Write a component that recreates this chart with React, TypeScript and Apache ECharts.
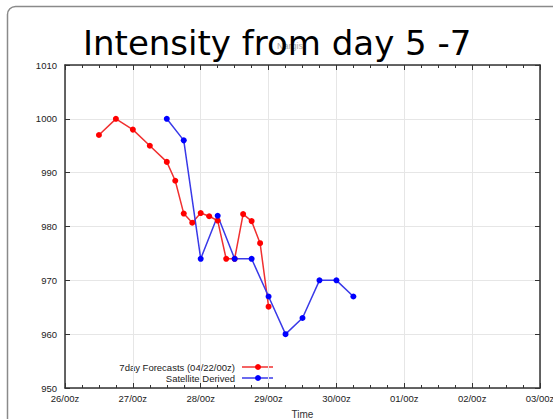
import React, { useEffect, useRef } from "react";
import * as echarts from "echarts";

// Time axis: hours after 26/00z
const dayLabels = ["26/00z", "27/00z", "28/00z", "29/00z", "30/00z", "01/00z", "02/00z", "03/00z"];
const yTicks = [950, 960, 970, 980, 990, 1000, 1010];

const forecastName = "7day Forecasts (04/22/00z)";
const forecastHours = [12, 18, 24, 30, 36, 39, 42, 45, 48, 51, 54, 57, 60, 63, 66, 69, 72];
const forecastValues = [997, 1000, 998, 995, 992, 988.5, 982.4, 980.7, 982.5, 981.9, 981.1, 974, 974, 982.3, 981, 976.9, 965.1];

const satelliteName = "Satellite Derived";
const satelliteHours = [36, 42, 48, 54, 60, 66, 72, 78, 84, 90, 96, 102];
const satelliteValues = [1000, 996, 974, 982, 974, 974, 967, 960, 963, 970, 970, 967];

const titleText = "Intensity from day 5 -7";
const plotTitle = "Nargis";

const legendEntry = (name: string, y: number, dot: string, line: string) => ({
  type: "group",
  x: 0,
  y,
  children: [
    {
      type: "text",
      x: 235,
      y: 0,
      style: { text: name, fill: "#222", fontSize: 9.5, fontFamily: "Liberation Sans", align: "right", verticalAlign: "middle" },
    },
    { type: "line", shape: { x1: 242, y1: 0, x2: 273, y2: 0 }, style: { stroke: line, lineWidth: 1.5 } },
    { type: "circle", shape: { cx: 258, cy: 0, r: 3 }, style: { fill: dot } },
  ],
});

export default function App() {
  const ref = useRef<HTMLDivElement>(null);
  useEffect(() => {
    if (!ref.current) return;
    const chart = echarts.init(ref.current, null, { renderer: "svg" });
    const axisFont = { fontFamily: "Liberation Sans", fontSize: 9.5, color: "#222" };
    const xCommon = {
      type: "value",
      min: 0,
      max: (dayLabels.length - 1) * 24,
      interval: 24,
      axisLine: { show: true, onZero: false, lineStyle: { color: "#333", width: 1.5 } },
      axisTick: { show: true, inside: true, length: 5, lineStyle: { color: "#333" } },
      minorTick: { show: true, splitNumber: 4, length: 3, lineStyle: { color: "#333" } },
    };
    const yCommon = {
      type: "value",
      min: yTicks[0],
      max: yTicks[yTicks.length - 1],
      interval: 10,
      axisLine: { show: true, onZero: false, lineStyle: { color: "#333", width: 1.5 } },
      axisTick: { show: true, inside: true, length: 5, lineStyle: { color: "#333" } },
    };
    chart.setOption({
      animation: false,
      backgroundColor: "#fff",
      title: {
        text: titleText,
        left: 78,
        top: 21,
        z: 10,
        textStyle: { fontFamily: "DejaVu Sans", fontSize: 34, fontWeight: "normal", color: "#000" },
      },
      graphic: [
        {
          type: "rect",
          z: -10,
          shape: { x: 7.5, y: 6.5, width: 620, height: 500, r: 8 },
          style: { fill: "none", stroke: "#8a8a8a", lineWidth: 1.5 },
        },
        {
          type: "text",
          z: 0,
          x: 290,
          y: 46,
          style: { text: plotTitle, fill: "#aaa", fontSize: 9, fontFamily: "Liberation Sans", align: "center", verticalAlign: "middle" },
        },
        { ...legendEntry(forecastName, 367, "#ff0000", "#f03030"), z: 20 },
        { ...legendEntry(satelliteName, 378, "#0000ff", "#3a3ae8"), z: 20 },
      ],
      grid: { left: 65, top: 65, right: 13, bottom: 31, containLabel: false, outerBoundsMode: "none" },
      xAxis: [
        {
          ...xCommon,
          position: "bottom",
          name: "Time",
          nameLocation: "middle",
          nameGap: 21,
          nameTextStyle: { fontFamily: "Liberation Sans", fontSize: 10, color: "#333" },
          axisLabel: { ...axisFont, margin: 5, formatter: (v: number) => dayLabels[Math.round(v / 24)] ?? "" },
          splitLine: { show: true, lineStyle: { color: "#e6e6e6", width: 1 } },
        },
        {
          ...xCommon,
          position: "top",
          axisLabel: { show: false },
          splitLine: { show: false },
        },
      ],
      yAxis: [
        {
          ...yCommon,
          position: "left",
          axisLabel: { ...axisFont, margin: 8, formatter: (v: number) => String(v) },
          splitLine: { show: true, lineStyle: { color: "#e6e6e6", width: 1 } },
        },
        {
          ...yCommon,
          position: "right",
          axisLabel: { show: false },
          splitLine: { show: false },
        },
      ],
      series: [
        {
          name: forecastName,
          type: "line",
          data: forecastHours.map((h, i) => [h, forecastValues[i]]),
          symbol: "circle",
          symbolSize: 6,
          itemStyle: { color: "#ff0000" },
          lineStyle: { color: "#f03030", width: 1.5 },
        },
        {
          name: satelliteName,
          type: "line",
          data: satelliteHours.map((h, i) => [h, satelliteValues[i]]),
          symbol: "circle",
          symbolSize: 6,
          itemStyle: { color: "#0000ff" },
          lineStyle: { color: "#3a3ae8", width: 1.5 },
        },
      ],
    });
    return () => chart.dispose();
  }, []);
  return <div ref={ref} style={{ width: 553, height: 419, position: "absolute", left: 0, top: 0 }} />;
}
